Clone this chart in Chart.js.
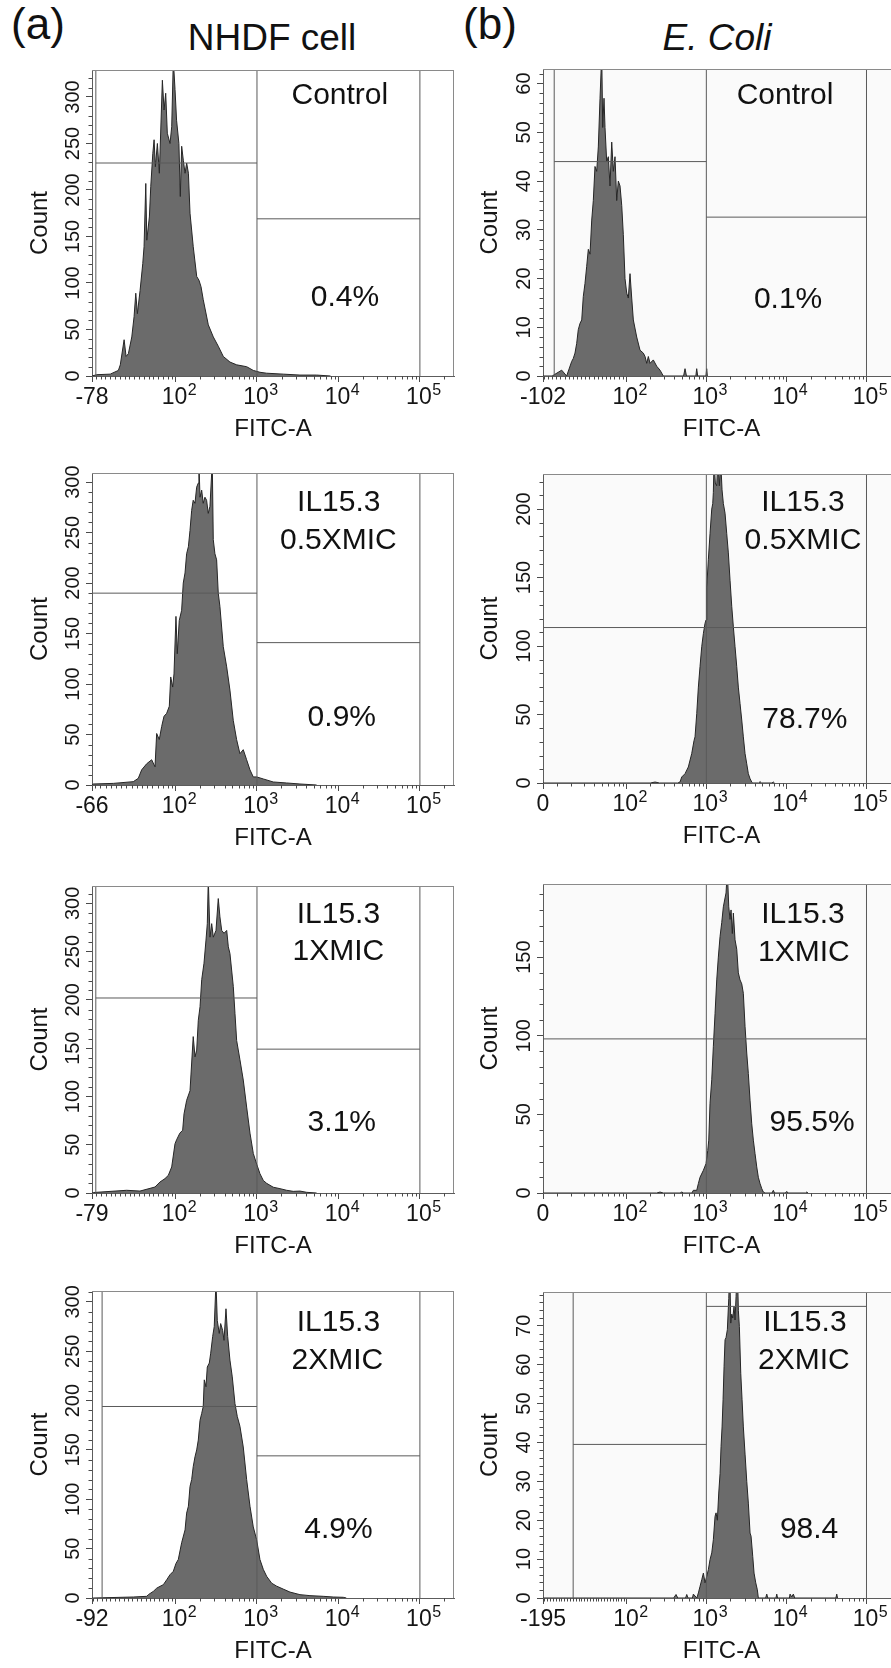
<!DOCTYPE html>
<html><head><meta charset="utf-8"><title>Flow cytometry histograms</title>
<script src="https://cdn.jsdelivr.net/npm/chart.js@4.4.1/dist/chart.umd.min.js"></script>
<style>
html,body{margin:0;padding:0;background:#fff;overflow:hidden;}
body{position:relative;width:891px;height:1668px;}
.hd{position:absolute;font-family:"Liberation Sans",Arial,Helvetica,sans-serif;color:#111;white-space:nowrap;line-height:1;transform:translateX(-50%);}
canvas{position:absolute;}
</style></head>
<body>
<div class="hd" style="left:38px;top:2px;font-size:44px;">(a)</div>
<div class="hd" style="left:272px;top:19px;font-size:37px;">NHDF cell</div>
<div class="hd" style="left:490px;top:2px;font-size:44px;">(b)</div>
<div class="hd" style="left:717px;top:19px;font-size:37px;font-style:italic;">E. Coli</div>
<script>
// ---------------- data ----------------
const xMaxValue = 262143;
const decadeValues = [100, 1000, 10000, 100000];
const decadeExponents = ['2', '3', '4', '5'];
const xMinorTickValues = [-190,-180,-170,-160,-150,-140,-130,-120,-110,-100,-90,-80,-70,-60,-50,-40,-30,-20,-10,0,10,20,30,40,50,60,70,80,90,
  200,300,400,500,600,700,800,900,2000,3000,4000,5000,6000,7000,8000,9000,20000,30000,40000,50000,60000,70000,80000,90000,200000];

const yTicksNHDF = [0, 50, 100, 150, 200, 250, 300];
const yTicksB1 = [0, 10, 20, 30, 40, 50, 60];
const yTicksB2 = [0, 50, 100, 150, 200];
const yTicksB3 = [0, 50, 100, 150];
const yTicksB4 = [0, 10, 20, 30, 40, 50, 60, 70];

// histograms: FITC-A intensity and event count
const a1Intensity = [-78,-68,-40,-23,-19,-11,-6.9,-2.1,5,9.8,13.3,16.7,22.3,27.9,30.6,34.2,36.3,41.7,44.6,48.8,51.5,54.2,58.4,62.5,68.8,72.3,75.8,79.3,85.6,89.8,94,98.6,103,110,114.5,119,124.6,131,137,144,150.7,165,182,194,205.6,219,252.6,291,335,386,466,563,747,901,1088,1315,2104,3370,5400,8000];
const a1Count = [0,1.4,2,6,12,39,21,24,42,64,89,67,92,121,139,207,146,171,204,239,254,225,250,218,318,286,304,261,250,268,340,308,275,250,193,247,232,218,229,218,175,139,107,103,96,82,55,42,32,21,15,12,10,6,4,3,2,1,1,0];

const a2Intensity = [-66,-63.5,-25,13.2,22.8,29.3,38.9,48.5,54.9,58.1,63.1,67.7,72.3,78,84,87.4,92.4,95.9,101.4,105.2,111.3,119,124.6,131,137,144,150.7,158,165,173.5,182,190.5,194,200,209.7,219,230,241,252.6,265,282.9,291,305,320,335,351,386,425,466,512,563,618,679,747,821,901,991,1196,1585,2314,3370,5400];
const a2Count = [0,1,1.6,3.3,6.6,15,21,25,18,51,45,58,68,71,78,107,97,110,167,130,163,173,200,210,229,236,252,272,282,279,295,299,320,285,292,279,285,282,269,276,320,243,229,223,190,177,137,117,94,64,45,31,35,25,15,8,8,6,3,2,1,0];

const a3Intensity = [-79,-76,-6.1,21.8,53.3,63.8,74.3,81.6,89.8,98.6,103,113,122.4,127.2,137,150.7,165,173.5,182,190.5,200,209.7,223.7,236.7,245.6,252.6,265,278,291,314,335,351,369,394,425,445,466,512,537,563,618,679,747,821,901,991,1088,1196,1315,1585,1915,2314,2789,3370,4074,5400];
const a3Count = [0,0.5,2.8,2,6.2,11.4,14.9,18.3,27,51,55,62,65,82,96,106,162,141,148,179,193,221,238,262,279,325,265,279,265,272,305,286,272,269,272,255,248,214,186,158,138,117,89,62,41,30,20,13,10,6,4.5,2.8,1.7,2,0.7,0];

const a4Intensity = [-92,-89,2,32.5,36.2,47.5,55.3,62.8,70.3,78,85.6,94,101.4,108.2,119,131,137,144,150.7,158,165,173.5,182,190.5,200,209.7,219,225.6,236.7,245.6,260,270.4,286,299,314,325.8,344.6,358.6,379.4,394,416.5,437,466,497.7,537,573,618,679,747,821,901,991,1088,1196,1315,1515,1745,2104,2541,3370,4471,6507,8630,11450,12500];
const a4Count = [0,0,1,1.7,3.4,6.7,10,11.8,13.5,18.5,23.6,27,35,39,56,69,86,93,113,120,133,143,150,160,180,187,194,221,214,234,238,248,265,275,320,281,268,278,271,261,293,265,241,224,197,184,174,153,120,93,72,59,39,29,22,15,12,9,6,3.4,2.4,1.7,1,0.7,0];

const b1Intensity = [-102,-80,-57,-45,-32.8,-29,-24.9,-20.8,-17,-12.8,-8.7,-4.9,-0.8,3.3,7.2,11.3,15.4,19.2,23.3,27.4,31.3,35.4,39.5,41.9,45,47.4,51.5,55.4,59.5,63.6,67.4,71.5,75.6,79.5,83.6,87.8,91.9,96.5,101.4,106.1,111.4,117,122.6,135.1,148.6,163.4,171.6,180.2,188.7,198.2,217.8,240.2,264.1,290.4,520,542,565,740,758,780,990,1011,1030];
const b1Count = [0,0,1.2,0,3,3.6,4.7,6.7,9.5,10.8,11.5,16.3,19,22.5,26,25,32,36,43,42,47,57,66,51,57,51,44,45,39,48,42,45,36,40,39,35,29,20,17,16,21,16,11.5,8,5.3,4.7,4,2.6,4,2.6,3.3,2,1.2,0,0,1.5,0,0,1.5,0,0,1.5,0];

const b2Intensity = [0,200,228.8,260,440,469,493,542,596,657,702,722.6,759,795,834,876,917.6,963.4,991.5,1011.6,1059,1112,1168,1202,1223,1248,1295,1349,1388,1453,1512,1571,1631,1712,1798,1883,1977,2076,2174,2283,2397,2510,2636,2768,2898,3043,3196,3346,3514,3690,3800,4500,4686,4900,6600,6868,7100];
const b2Count = [0,0,0.7,0,0,0.7,4.4,6.8,11.7,21.5,31,33.7,50.7,70,85,99.5,109,116.6,119,143,163,182,200,204,212,235,219,217,235,217,235,214,204,197,182,168,148,129,114,99.5,85,70,58,46,33.7,21.5,14,6.8,3.2,0.7,0,0,1,0,0,0.7,0];

const b3Intensity = [0,240,264,290,470,493,520,660,688,759,795,834,918,991.5,1041,1072,1112,1168,1223,1284,1349,1412,1483,1557,1631,1712,1762,1829,1905,1977,2035,2112,2174,2283,2397,2510,2636,2768,2898,3043,3196,3346,3514,3690,3864,4057,4261,4461,4686,4920,5151,5409,6600,6868,7100,9700,10095,10500,17300,17950,18600];
const b3Count = [0,0,0.6,0,0,0.6,0,0,1.7,1.7,6,10,14.4,18.7,27,33.6,57,72,93,114,135.5,150,163,172,182,187.6,190.8,205,182,174,180,165,178,161,155,140,135.5,133,127,106,89,76,59,44,33.6,25,16.6,10,6,2.8,0.6,0,0,1.7,0,0,1,0,0,0.6,0];

const b4Intensity = [-195,390,418,440,550,569,590,670,688,760,795,834,876,918,963,1012,1059,1112,1168,1223,1284,1322,1372,1428,1483,1526,1571,1617,1664,1712,1762,1829,1905,1960,2017,2076,2137,2218,2283,2349,2439,2510,2584,2689,2792,2898,3043,3196,3346,3514,3617,3797,3942,4140,4335,4461,5500,5680,5850,7400,7573,7750,10900,11100,11650,12205,12700,41500,42510,43500];
const b4Count = [0,0,0.9,0,0,0.9,0,0,1,0,1.3,3,4.7,6.4,3.9,5.6,7.3,9.9,11.6,15,21,21.9,20,27,32,39,44,51,59.6,66.4,67,69,77,85,70.7,73,72,75,71.5,77.5,85,74,69.8,57.8,51,44,37,30,24.4,16.7,15.9,10.7,6.4,3.9,2.1,0,0,1,0,0,1,0,0,1,0.3,1,0,0,1,0];

// gates: vertical markers (intensity) and horizontal markers [from, to, count]
const gateXA1 = [-70, 1000, 100000]; const gateYA1 = [[-70, 1000, 229], [1000, 100000, 169]];
const gateXA2 = [1000, 100000];      const gateYA2 = [[-66, 1000, 190], [1000, 100000, 141]];
const gateXA3 = [-71, 1000, 100000]; const gateYA3 = [[-71, 1000, 202], [1000, 100000, 149]];
const gateXA4 = [-69, 1000, 100000]; const gateYA4 = [[-69, 1000, 194], [1000, 100000, 144]];
const gateXB1 = [-75, 1000, 100000]; const gateYB1 = [[-75, 1000, 44], [1000, 100000, 32.6]];
const gateXB2 = [1000, 100000];      const gateYB2 = [[0, 1000, 113.5], [1000, 100000, 113.5]];
const gateXB3 = [1000, 100000];      const gateYB3 = [[0, 1000, 98], [1000, 100000, 98]];
const gateXB4 = [-89, 1000, 100000]; const gateYB4 = [[-89, 1000, 39.5], [1000, 100000, 75]];

// in-plot labels [text, intensity, count]
const notesA1 = [['Control', 10400, 304], ['0.4%', 12000, 87]];
const notesB1 = [['Control', 9600, 58.1], ['0.1%', 10500, 16.2]];
const notesA2 = [['IL15.3', 10100, 282], ['0.5XMIC', 10000, 244.5], ['0.9%', 11000, 69]];
const notesB2 = [['IL15.3', 16100, 206.6], ['0.5XMIC', 16100, 178.8], ['78.7%', 17000, 48]];
const notesA3 = [['IL15.3', 10000, 291], ['1XMIC', 10000, 252], ['3.1%', 11000, 75.6]];
const notesB3 = [['IL15.3', 16100, 178.8], ['1XMIC', 16500, 154.6], ['95.5%', 20900, 46.4]];
const notesA4 = [['IL15.3', 10000, 281.7], ['2XMIC', 9700, 243], ['4.9%', 10000, 72]];
const notesB4 = [['IL15.3', 17000, 71.5], ['2XMIC', 16500, 61.7], ['98.4', 19200, 18.3]];

// ---------------- panel setup ----------------
const panels = [
  {id:'a1', col:0, top:70,   bottom:376,  xMin:-78,  xMinLabel:'-78',  lin:73.8,  yMax:329,   yTicks:yTicksNHDF, yMinor:10, hx:a1Intensity, hy:a1Count, gx:gateXA1, gy:gateYA1, notes:notesA1},
  {id:'b1', col:1, top:69,   bottom:376,  xMin:-102, xMinLabel:'-102', lin:83.8,  yMax:63,    yTicks:yTicksB1,   yMinor:2,  hx:b1Intensity, hy:b1Count, gx:gateXB1, gy:gateYB1, notes:notesB1},
  {id:'a2', col:0, top:473,  bottom:785,  xMin:-66,  xMinLabel:'-66',  lin:67.9,  yMax:309,   yTicks:yTicksNHDF, yMinor:10, hx:a2Intensity, hy:a2Count, gx:gateXA2, gy:gateYA2, notes:notesA2},
  {id:'b2', col:1, top:474,  bottom:783,  xMin:0,    xMinLabel:'0',    lin:24.8,  yMax:225.6, yTicks:yTicksB2,   yMinor:10, hx:b2Intensity, hy:b2Count, gx:gateXB2, gy:gateYB2, notes:notesB2},
  {id:'a3', col:0, top:886,  bottom:1193, xMin:-79,  xMinLabel:'-79',  lin:74.3,  yMax:318,   yTicks:yTicksNHDF, yMinor:10, hx:a3Intensity, hy:a3Count, gx:gateXA3, gy:gateYA3, notes:notesA3},
  {id:'b3', col:1, top:884,  bottom:1193, xMin:0,    xMinLabel:'0',    lin:24.8,  yMax:196.5, yTicks:yTicksB3,   yMinor:10, hx:b3Intensity, hy:b3Count, gx:gateXB3, gy:gateYB3, notes:notesB3},
  {id:'a4', col:0, top:1291, bottom:1598, xMin:-92,  xMinLabel:'-92',  lin:80.5,  yMax:311,   yTicks:yTicksNHDF, yMinor:10, hx:a4Intensity, hy:a4Count, gx:gateXA4, gy:gateYA4, notes:notesA4},
  {id:'b4', col:1, top:1292, bottom:1598, xMin:-195, xMinLabel:'-195', lin:122.2, yMax:78.7,  yTicks:yTicksB4,   yMinor:2,  hx:b4Intensity, hy:b4Count, gx:gateXB4, gy:gateYB4, notes:notesB4}
];
const panelByCanvas = {};

const FONT = '"Liberation Sans", Arial, Helvetica, sans-serif';
const TXT = '#151515', AXIS = '#5c5c5c', TICK = '#4a4a4a', FRAME = '#8a8a8a', GATE = '#5a5a5a';
const HIST_FILL = '#6b6b6b', HIST_LINE = '#262626';

// ---------------- biexponential-style axis (linear near zero, log above) ----------------
class BiexScale extends Chart.Scale {
  constructor(cfg) { super(cfg); this._tMin = 0; this._tMax = 1; }
  _p() { return panelByCanvas[this.chart.canvas.id]; }
  _tf(v) { const c = this._p().lin; return v >= c ? Math.log10(v) : Math.log10(c) + (v - c) / (c * Math.LN10); }
  _itf(t) { const c = this._p().lin, lc = Math.log10(c); return t >= lc ? Math.pow(10, t) : c + (t - lc) * c * Math.LN10; }
  determineDataLimits() {
    const mm = this.getMinMax(false);
    const o = this.options;
    this.min = (o.min !== undefined && o.min !== null) ? o.min : mm.min;
    this.max = (o.max !== undefined && o.max !== null) ? o.max : mm.max;
  }
  buildTicks() { return [this._p().xMin].concat(decadeValues).map(v => ({ value: v })); }
  getLabelForValue(v) { return String(v); }
  configure() { super.configure(); this._tMin = this._tf(this.min); this._tMax = this._tf(this.max); }
  getPixelForValue(v) { return this.getPixelForDecimal((this._tf(v) - this._tMin) / (this._tMax - this._tMin)); }
  getValueForPixel(px) { return this._itf(this._tMin + this.getDecimalForPixel(px) * (this._tMax - this._tMin)); }
}
BiexScale.id = 'biex';
BiexScale.defaults = {};
Chart.register(BiexScale);

function overlay(p) {
  return {
    id: 'overlay',
    beforeDraw(chart) {
      if (p.col !== 1) return;
      const { ctx, chartArea: a } = chart;
      ctx.save(); ctx.fillStyle = '#fafafa';
      ctx.fillRect(a.left, a.top, a.right - a.left, a.bottom - a.top);
      ctx.restore();
    },
    afterDraw(chart) {
      const { ctx, chartArea: a } = chart;
      const x = chart.scales.x, y = chart.scales.y;
      ctx.save();
      // frame (top & right)
      ctx.strokeStyle = FRAME; ctx.lineWidth = 1;
      ctx.beginPath();
      ctx.moveTo(a.left, Math.round(a.top) + 0.5); ctx.lineTo(a.right, Math.round(a.top) + 0.5);
      ctx.moveTo(Math.round(a.right) - 0.5, a.top); ctx.lineTo(Math.round(a.right) - 0.5, a.bottom);
      ctx.stroke();
      // minor ticks
      ctx.strokeStyle = TICK; ctx.beginPath();
      xMinorTickValues.forEach(v => {
        if (v <= x.min || v >= x.max) return;
        const px = Math.round(x.getPixelForValue(v)) + 0.5;
        ctx.moveTo(px, a.bottom); ctx.lineTo(px, a.bottom + 3.5);
      });
      for (let k = 1; k * p.yMinor < y.max; k++) {
        const v = k * p.yMinor;
        if (p.yTicks.indexOf(v) >= 0) continue;
        const py = Math.round(y.getPixelForValue(v)) + 0.5;
        ctx.moveTo(a.left, py); ctx.lineTo(a.left - 3.5, py);
      }
      ctx.stroke();
      // x tick labels
      ctx.fillStyle = TXT; ctx.textBaseline = 'alphabetic';
      ctx.font = '23px ' + FONT; ctx.textAlign = 'center';
      ctx.fillText(p.xMinLabel, x.getPixelForValue(p.xMin), a.bottom + 28);
      decadeValues.forEach((v, i) => {
        const px = x.getPixelForValue(v) - 1;
        ctx.font = '23px ' + FONT; ctx.textAlign = 'center';
        ctx.fillText('10', px, a.bottom + 28);
        const w = ctx.measureText('10').width;
        ctx.font = '16px ' + FONT; ctx.textAlign = 'left';
        ctx.fillText(decadeExponents[i], px + w / 2 + 0.5, a.bottom + 19);
      });
      // y tick labels (rotated)
      ctx.font = '20px ' + FONT; ctx.textAlign = 'center';
      p.yTicks.forEach(v => {
        const py = y.getPixelForValue(v);
        ctx.save(); ctx.translate(a.left - 20 + 0.358 * 20, py); ctx.rotate(-Math.PI / 2);
        ctx.fillText(String(v), 0, 0); ctx.restore();
      });
      // in-plot labels
      ctx.font = '30px ' + FONT; ctx.textAlign = 'center'; ctx.fillStyle = '#111';
      p.notes.forEach(n => {
        ctx.fillText(n[0], x.getPixelForValue(n[1]), y.getPixelForValue(n[2]) + 0.358 * 30);
      });
      ctx.restore();
    }
  };
}

function gateLine(points) {
  return { data: points, borderColor: GATE, borderWidth: 1, pointRadius: 0, fill: false, tension: 0 };
}

function makeChart(p) {
  const isB = p.col === 1;
  const canvasLeft = isB ? 450 : 0, cw = isB ? 460 : 470;
  const ch = (p.bottom - p.top) + 90;
  const canvas = document.createElement('canvas');
  canvas.id = 'chart-' + p.id;
  panelByCanvas[canvas.id] = p;
  canvas.width = cw; canvas.height = ch;
  canvas.style.left = canvasLeft + 'px'; canvas.style.top = (p.top - 20) + 'px';
  canvas.style.width = cw + 'px'; canvas.style.height = ch + 'px';
  document.body.appendChild(canvas);

  const datasets = [];
  p.gx.forEach(v => datasets.push(gateLine([{ x: v, y: 0 }, { x: v, y: p.yMax }])));
  p.gy.forEach(h => datasets.push(gateLine([{ x: h[0], y: h[2] }, { x: h[1], y: h[2] }])));
  datasets.push({
    data: p.hx.map((v, i) => ({ x: v, y: p.hy[i] })),
    fill: 'origin', backgroundColor: HIST_FILL, borderColor: HIST_LINE, borderWidth: 1,
    pointRadius: 0, tension: 0
  });

  new Chart(canvas, {
    type: 'line',
    data: { datasets },
    options: {
      responsive: false, animation: false, devicePixelRatio: 1,
      layout: { padding: { left: isB ? 13 : 12, right: isB ? 10 : 16, top: 20, bottom: 0 } },
      plugins: { legend: { display: false }, tooltip: { enabled: false } },
      scales: {
        x: {
          type: 'biex', min: p.xMin, max: xMaxValue,
          ticks: { display: false },
          grid: { display: true, drawOnChartArea: false, drawTicks: true, tickLength: 6, tickColor: TICK, tickWidth: 1 },
          border: { display: true, color: AXIS, width: 1 },
          title: { display: true, text: 'FITC-A', color: TXT, font: { family: FONT, size: 24 }, padding: { top: 0, bottom: 2 } },
          afterFit(s) { s.height = 70; s.paddingLeft = 0; s.paddingRight = 0; }
        },
        y: {
          type: 'linear', min: 0, max: p.yMax,
          ticks: { display: false },
          afterBuildTicks(s) { s.ticks = p.yTicks.map(v => ({ value: v })); },
          grid: { display: true, drawOnChartArea: false, drawTicks: true, tickLength: 6, tickColor: TICK, tickWidth: 1 },
          border: { display: true, color: AXIS, width: 1 },
          title: { display: true, text: 'Count', color: TXT, font: { family: FONT, size: 24 }, padding: { top: isB ? 12.6 : 13.6, bottom: 0 } },
          afterFit(s) { s.width = 80; s.paddingTop = 0; s.paddingBottom = 0; }
        }
      }
    },
    plugins: [overlay(p)]
  });
}

panels.forEach(makeChart);
</script>
</body></html>
